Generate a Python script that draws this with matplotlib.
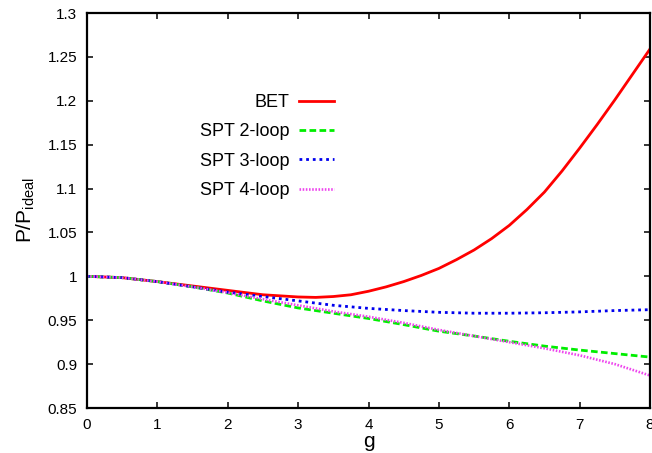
import matplotlib
matplotlib.use("Agg")
import matplotlib.pyplot as plt

plt.rcParams['font.family'] = ['Liberation Sans', 'DejaVu Sans']

# BET curve, read at steps of 0.25 in g
g_bet = [0, 0.5, 1, 1.5, 2, 2.5, 3, 3.25, 3.5, 3.75, 4, 4.25, 4.5, 4.75, 5,
         5.25, 5.5, 5.75, 6, 6.25, 6.5, 6.75, 7, 7.25, 7.5, 7.75, 8]
bet = [1.000, 0.9985, 0.994, 0.989, 0.984, 0.979, 0.9765, 0.976, 0.977, 0.979,
       0.983, 0.988, 0.994, 1.001, 1.009, 1.019, 1.030, 1.043, 1.058, 1.076,
       1.096, 1.120, 1.146, 1.173, 1.201, 1.230, 1.259]

# SPT curves, read at steps of 0.5 in g
g_spt = [0, 0.5, 1, 1.5, 2, 2.5, 3, 3.5, 4, 4.5, 5, 5.5, 6, 6.5, 7, 7.5, 8]
spt2 = [1.000, 0.9985, 0.994, 0.988, 0.981, 0.972, 0.964, 0.958, 0.952, 0.945,
        0.9375, 0.932, 0.926, 0.9205, 0.916, 0.912, 0.908]
spt3 = [1.000, 0.9985, 0.994, 0.988, 0.982, 0.977, 0.972, 0.967, 0.9635, 0.961,
        0.959, 0.958, 0.958, 0.9585, 0.9595, 0.961, 0.962]
spt4 = [1.000, 0.9985, 0.994, 0.988, 0.9815, 0.974, 0.967, 0.960, 0.954, 0.947,
        0.939, 0.932, 0.925, 0.918, 0.910, 0.900, 0.887]

series_labels = ['BET', 'SPT 2-loop', 'SPT 3-loop', 'SPT 4-loop']
xticks = [0, 1, 2, 3, 4, 5, 6, 7, 8]
yticks = [0.85, 0.9, 0.95, 1.0, 1.05, 1.1, 1.15, 1.2, 1.25, 1.3]
ytick_labels = ['0.85', '0.9', '0.95', '1', '1.05', '1.1', '1.15', '1.2', '1.25', '1.3']

fig = plt.figure(figsize=(6.52, 4.53), dpi=100)
ax = fig.add_axes([87/652, 45/453, (650-87)/652, (408-13)/453])

ax.plot(g_bet, bet, color='#ff0000', lw=2.0, ls='-', label=series_labels[0])
ax.plot(g_spt, spt2, color='#00ee00', lw=2.0, ls=(0, (2.4, 1.2)), label=series_labels[1])
ax.plot(g_spt, spt3, color='#0000ee', lw=2.0, ls=(0, (1.0, 1.4)), label=series_labels[2])
ax.plot(g_spt, spt4, color='#ee44ee', lw=1.9, ls=(0, (0.6, 0.6)), label=series_labels[3])

ax.set_xlim(0, 8)
ax.set_ylim(0.85, 1.3)
ax.set_xticks(xticks)
ax.set_xticklabels([str(v) for v in xticks])
ax.set_yticks(yticks)
ax.set_yticklabels(ytick_labels)
ax.tick_params(direction='in', top=True, right=True, length=4.5, width=1.1,
               labelsize=11, pad=7)
for s in ax.spines.values():
    s.set_linewidth(1.6)

ax.set_xlabel('g', fontsize=15, labelpad=0)
ax.set_ylabel(r'P/P$_{\mathregular{ideal}}$', fontsize=15, labelpad=8)

leg = ax.legend(loc='upper right', bbox_to_anchor=(334/652, (453-94)/453),
                bbox_transform=fig.transFigure, frameon=False,
                markerfirst=False, fontsize=13, handlelength=1.95,
                labelspacing=0.68, handletextpad=0.5, borderpad=0,
                borderaxespad=0)
for t in leg.get_texts():
    t.set_ha('right')
leg._legend_box.align = 'right'

fig.savefig('out.png', dpi=100)
